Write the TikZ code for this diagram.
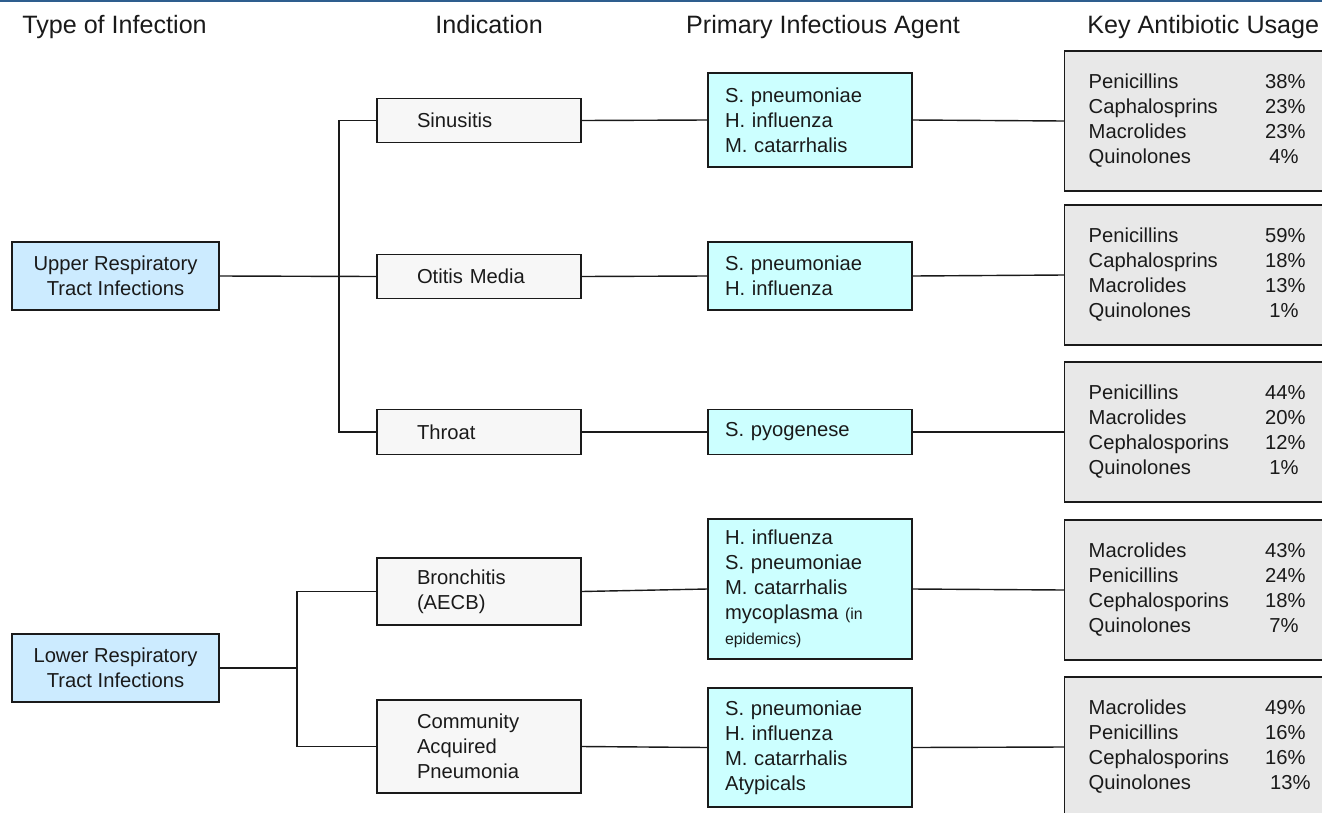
\documentclass[tikz,border=0pt]{standalone}
\usepackage{fontspec}
\setmainfont{Liberation Sans}
\usetikzlibrary{positioning}
\definecolor{infBlue}{HTML}{CCEBFF}
\definecolor{infCyan}{HTML}{CCFFFF}
\definecolor{infLight}{HTML}{F7F7F7}
\definecolor{infGray}{HTML}{E8E8E8}
\definecolor{infRule}{HTML}{2E5E8E}
\definecolor{infInk}{HTML}{1A1A1A}
% one row of a usage box: drug name left, share pushed right
\newcommand{\drugrow}[2]{#1\hskip 0pt plus 1fill #2}

\tikzset{
  boxbase/.style={draw=infInk, line width=0.8pt, text=infInk,
    font=\fontsize{11.5}{14.2}\selectfont},
  typebox/.style={boxbase, fill=infBlue, align=center,
    minimum width=4.14cm, minimum height=1.36cm},
  indbox/.style={boxbase, fill=infLight, text width=2.48cm, inner xsep=0.8cm, align=left},
  agentbox/.style={boxbase, fill=infCyan, text width=3.4cm, inner xsep=0.34cm, align=left},
  usebox/.style={boxbase, fill=infGray, anchor=west, text width=4.34cm,
    inner xsep=0.48cm, align=left, minimum height=2.8cm},
  colhead/.style={font=\fontsize{14.3}{16}\selectfont, text=infInk, anchor=base, inner sep=0pt},
  link/.style={draw=infInk, line width=0.8pt}
}

\begin{document}
\begin{tikzpicture}[x=0.02cm, y=-0.02cm]
  \clip (0,0) rectangle (1322,812);
  \fill[infRule] (0,0) rectangle (1322,2);

  % column headings
  \node[colhead, anchor=base west] (hType) at (22,33) {Type of Infection};
  \node[colhead, anchor=base west] (hInd) at (435,33) {Indication};
  \node[colhead] (hAgent) at (823,33) {Primary Infectious Agent};
  \node[colhead, anchor=base west] (hUse) at (1087,33) {Key Antibiotic Usage};

  % type of infection
  \node[typebox] (upper) at (115.5,276) {Upper Respiratory\\Tract Infections};
  \node[typebox] (lower) at (115.5,668) {Lower Respiratory\\Tract Infections};

  % indications
  \node[indbox, minimum height=0.88cm] (sinus) at (479,120.5) {Sinusitis};
  \node[indbox, minimum height=0.88cm] (otitis) at (479,276.5) {Otitis Media};
  \node[indbox, minimum height=0.9cm] (throat) at (479,432) {Throat};
  \node[indbox, minimum height=1.34cm] (bron) at (479,591.5) {Bronchitis\\(AECB)};
  \node[indbox, minimum height=1.86cm] (cap) at (479,746.5) {Community\\Acquired\\Pneumonia};

  % infectious agents
  \node[agentbox, minimum height=1.88cm] (agent1) at (810,120) {S. pneumoniae\\H. influenza\\M. catarrhalis};
  \node[agentbox, minimum height=1.36cm] (agent2) at (810,276) {S. pneumoniae\\H. influenza};
  \node[agentbox, minimum height=0.9cm] (agent3) at (810,432) {S. pyogenese};
  \node[agentbox, minimum height=2.8cm] (agent4) at (810,589)
    {H. influenza\\S. pneumoniae\\M. catarrhalis\\mycoplasma {\fontsize{9}{11}\selectfont (in}\\{\fontsize{9}{11}\selectfont epidemics)}};
  \node[agentbox, minimum height=2.38cm] (agent5) at (810,747.5)
    {S. pneumoniae\\H. influenza\\M. catarrhalis\\Atypicals};

  % antibiotic usage
  \node[usebox] (usage1) at (1064,121) {\drugrow{Penicillins}{38\%}\\\drugrow{Caphalosprins}{23\%}\\
    \drugrow{Macrolides}{23\%}\\\drugrow{Quinolones}{4\%\hspace*{0.14cm}}};
  \node[usebox] (usage2) at (1064,275) {\drugrow{Penicillins}{59\%}\\\drugrow{Caphalosprins}{18\%}\\
    \drugrow{Macrolides}{13\%}\\\drugrow{Quinolones}{1\%\hspace*{0.14cm}}};
  \node[usebox] (usage3) at (1064,432) {\drugrow{Penicillins}{44\%}\\\drugrow{Macrolides}{20\%}\\
    \drugrow{Cephalosporins}{12\%}\\\drugrow{Quinolones}{1\%\hspace*{0.14cm}}};
  \node[usebox] (usage4) at (1064,590) {\drugrow{Macrolides}{43\%}\\\drugrow{Penicillins}{24\%}\\
    \drugrow{Cephalosporins}{18\%}\\\drugrow{Quinolones}{7\%\hspace*{0.14cm}}};
  \node[usebox] (usage5) at (1064,747) {\drugrow{Macrolides}{49\%}\\\drugrow{Penicillins}{16\%}\\
    \drugrow{Cephalosporins}{16\%}\\\drugrow{Quinolones}{13\%\hspace*{-0.1cm}}};

  % tree connectors
  \coordinate (splitU) at (339,276);
  \coordinate (splitL) at (297,668);
  \draw[link] (upper.east) -- (otitis.west);
  \draw[link] (sinus.west) -| (splitU) |- (throat.west);
  \draw[link] (lower.east) -- (splitL);
  \draw[link] (bron.west) -| (splitL) |- (cap.west);
  \foreach \ind/\k in {sinus/1, otitis/2, throat/3, bron/4, cap/5} {
    \draw[link] (\ind.east) -- (agent\k.west);
    \draw[link] (agent\k.east) -- (usage\k.west);
  }
\end{tikzpicture}
\end{document}
